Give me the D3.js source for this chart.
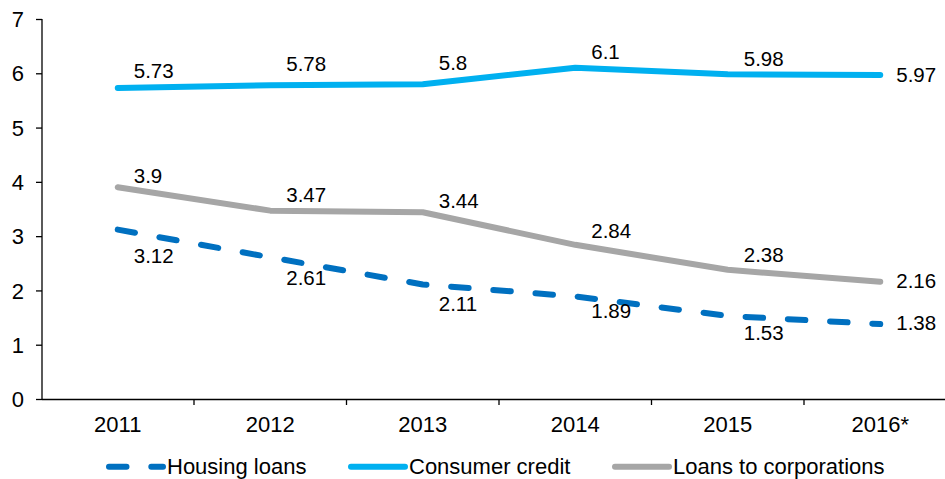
<!DOCTYPE html>
<html>
<head>
<meta charset="utf-8">
<script src="https://cdn.jsdelivr.net/npm/d3@7"></script>
<style>
  html, body { margin: 0; padding: 0; background: #fff; }
  svg { display: block; }
  text { font-family: "Liberation Sans", Arial, sans-serif; fill: #000; }
</style>
</head>
<body>
<svg id="chart" width="945" height="479"></svg>
<script>
// ---- data ----
const categories = ["2011", "2012", "2013", "2014", "2015", "2016*"];
const housingLoans = [3.12, 2.61, 2.11, 1.89, 1.53, 1.38];
const consumerCredit = [5.73, 5.78, 5.8, 6.1, 5.98, 5.97];
const loansToCorporations = [3.9, 3.47, 3.44, 2.84, 2.38, 2.16];
const yTickValues = [0, 1, 2, 3, 4, 5, 6, 7];
const seriesNames = ["Housing loans", "Consumer credit", "Loans to corporations"];

// ---- layout (label nudges, legend placement) ----
const housingLabelDy = [33.7, 27.7, 26.2, 21.6, 24.1, 5.9];
const consumerLabelDy = [-9.9, -14.5, -14.1, -8.5, -8.4, 6.8];
const corporationsLabelDy = [-4, -8.3, -4.5, -6.5, -8.1, 6.6];
const legendX = [106, 348, 612];

const series = [
  { name: seriesNames[0], values: housingLoans, color: "#0070C0", dash: "17.5 24.8", dy: housingLabelDy },
  { name: seriesNames[1], values: consumerCredit, color: "#00B0F0", dash: null, dy: consumerLabelDy },
  { name: seriesNames[2], values: loansToCorporations, color: "#A6A6A6", dash: null, dy: corporationsLabelDy }
];

const svg = d3.select("#chart");

const x = d3.scaleBand().domain(categories).range([41.5, 956.5]).padding(0);
const y = d3.scaleLinear().domain([0, 7]).range([399, 19]);
const cx = c => x(c) + x.bandwidth() / 2;

// ---- axes ----
const yAxis = d3.axisLeft(y).tickValues(yTickValues).tickSize(6).tickSizeOuter(0).tickPadding(12)
  .tickFormat(d3.format("d"));
const gy = svg.append("g").attr("transform", "translate(42,0)").call(yAxis);
gy.selectAll("path, line").attr("stroke", "#000").attr("stroke-width", 1.3);
gy.selectAll("text").style("font-size", "22px").attr("dy", "0.35em");
gy.select(".domain").attr("d", `M0,${y(7)}V${y(0)}`);

const xAxis = d3.axisBottom(x).tickSize(0).tickSizeOuter(0).tickPadding(17);
const gx = svg.append("g").attr("transform", `translate(0,${y(0)})`).call(xAxis);
gx.select(".domain").attr("stroke", "#000").attr("stroke-width", 1.3);
gx.selectAll("text").style("font-size", "22px");

// boundary ticks between categories
const boundaries = categories.slice(1).map(c => x(c));
svg.append("g").selectAll("line").data(boundaries).join("line")
  .attr("x1", d => d).attr("x2", d => d)
  .attr("y1", y(0)).attr("y2", y(0) + 6)
  .attr("stroke", "#000").attr("stroke-width", 1.3);

// ---- lines ----
const line = d3.line().x((d, i) => cx(categories[i])).y(d => y(d));

svg.append("g").selectAll("path").data(series).join("path")
  .attr("d", s => line(s.values))
  .attr("fill", "none")
  .attr("stroke", s => s.color)
  .attr("stroke-width", 6)
  .attr("stroke-linecap", "round")
  .attr("stroke-linejoin", "round")
  .attr("stroke-dasharray", s => s.dash);

// ---- data labels ----
series.forEach(s => {
  svg.append("g").selectAll("text").data(s.values).join("text")
    .attr("x", (d, i) => cx(categories[i]) + 16)
    .attr("y", (d, i) => y(d) + s.dy[i])
    .style("font-size", "20.5px")
    .text(d => d);
});

// ---- legend ----
const legendY = 466.7;
const lg = svg.append("g");
series.forEach((s, i) => {
  const x0 = legendX[i];
  lg.append("path")
    .attr("d", `M${x0 + 3},${legendY}H${x0 + 57}`)
    .attr("stroke", s.color).attr("stroke-width", 6)
    .attr("stroke-linecap", "round")
    .attr("stroke-dasharray", s.dash)
    .attr("fill", "none");
  lg.append("text")
    .attr("x", x0 + 61).attr("y", 474)
    .style("font-size", "22px")
    .text(s.name);
});
</script>
</body>
</html>
